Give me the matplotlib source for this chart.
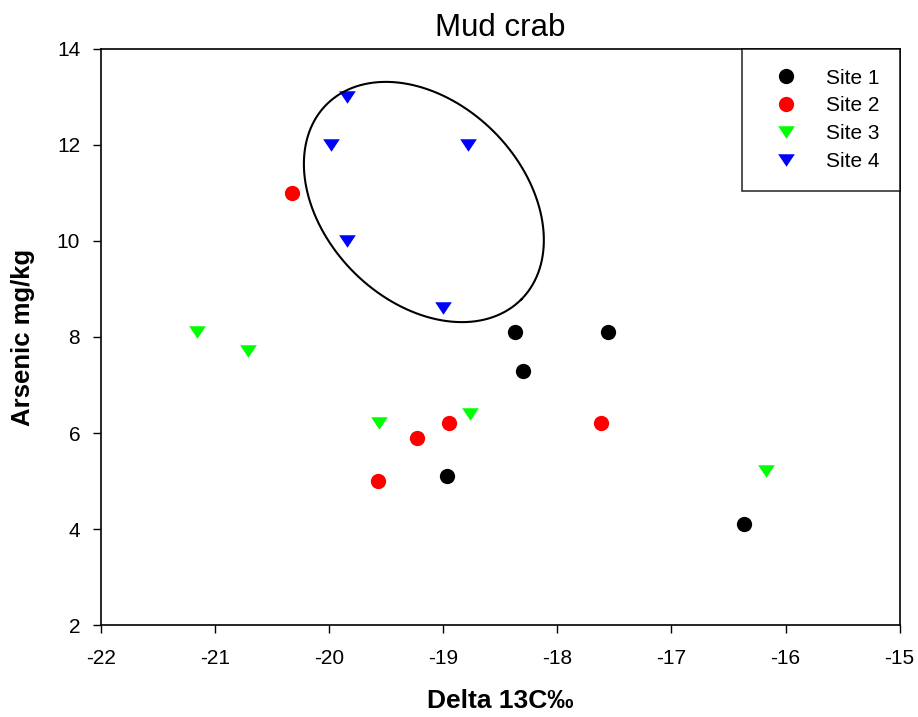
import numpy as np
import matplotlib.pyplot as plt

plt.rcParams['font.family'] = ['Liberation Sans', 'DejaVu Sans']
plt.rcParams['axes.unicode_minus'] = False

# delta 13C vs arsenic, per site
site1_x = [-18.37, -17.56, -18.30, -18.97, -16.36]
site1_y = [8.1, 8.1, 7.3, 5.1, 4.1]
site2_x = [-20.33, -19.57, -19.23, -18.95, -17.62]
site2_y = [11.0, 5.0, 5.9, 6.2, 6.2]
site3_x = [-21.16, -20.71, -19.56, -18.77, -16.17]
site3_y = [8.1, 7.7, 6.2, 6.4, 5.2]
site4_x = [-19.84, -19.98, -18.78, -19.84, -19.00]
site4_y = [13.0, 12.0, 12.0, 10.0, 8.6]

xticks = [-22, -21, -20, -19, -18, -17, -16, -15]
yticks = [2, 4, 6, 8, 10, 12, 14]

# flattened down-triangle
tri = [(-1, 0.75), (1, 0.75), (0, -0.75), (-1, 0.75)]

fig = plt.figure(figsize=(9.18, 7.17), dpi=100)
ax = fig.add_axes([0.110, 0.128, 0.870, 0.804])

ax.plot(site1_x, site1_y, 'o', color='black', ms=11, mec='none', label='Site 1')
ax.plot(site2_x, site2_y, 'o', color='red', ms=11, mec='none', label='Site 2')
ax.plot(site3_x, site3_y, marker=tri, ls='none', color='#00ff00', ms=12, mec='none', label='Site 3')
ax.plot(site4_x, site4_y, marker=tri, ls='none', color='blue', ms=12, mec='none', label='Site 4')

# ellipse around site 4 cluster
t = np.linspace(0, 2 * np.pi, 300)
cx, cy = -19.17, 10.81
u = np.array([0.853, -2.03])
v = np.array([-0.615, -1.46])
ax.plot(cx + u[0] * np.cos(t) + v[0] * np.sin(t),
        cy + u[1] * np.cos(t) + v[1] * np.sin(t),
        color='black', lw=1.5)

ax.set_xlim(-22, -15)
ax.set_ylim(2, 14)
ax.set_xticks(xticks)
ax.set_yticks(yticks)
ax.tick_params(direction='out', length=6, width=1, labelsize=15)
ax.tick_params(axis='x', pad=11)
ax.tick_params(axis='y', pad=9)
for s in ax.spines.values():
    s.set_linewidth(1.2)

ax.set_title('Mud crab', fontsize=22.5, pad=9)
ax.set_xlabel('Delta 13C‰', fontsize=19, fontweight='bold', labelpad=15)
ax.set_ylabel('Arsenic mg/kg', fontsize=18.5, fontweight='bold', labelpad=16)

leg = ax.legend(loc='upper right', fontsize=15, frameon=True, fancybox=False,
                borderaxespad=0, borderpad=0.95, handletextpad=0.8,
                labelspacing=0.42, handlelength=2.3)
leg.get_frame().set_edgecolor('black')
leg.get_frame().set_linewidth(1.2)

fig.savefig('out.png', dpi=100)
